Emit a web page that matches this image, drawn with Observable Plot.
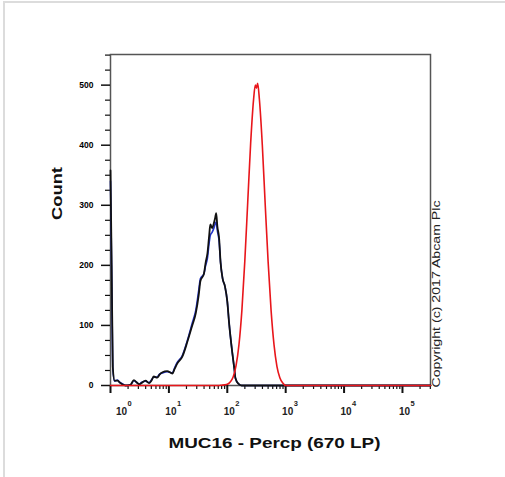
<!DOCTYPE html>
<html>
<head>
<meta charset="utf-8">
<script src="https://cdn.jsdelivr.net/npm/d3@7"></script>
<script src="https://cdn.jsdelivr.net/npm/@observablehq/plot@0.6"></script>
<style>
  html, body { margin: 0; padding: 0; background: #fff; }
  #wrap { position: relative; width: 505px; height: 477px; overflow: hidden; }
  #border { position: absolute; left: 3px; top: 1px; right: 0; bottom: 0;
            border-top: 2px solid #dcdcdc; border-left: 2px solid #dcdcdc; }
  #chart { position: absolute; left: 0; top: 0; }
</style>
</head>
<body>
<div id="wrap"><div id="border"></div><div id="chart"></div></div>
<script>
// decade exponents for x tick labels
const decades = [0, 1, 2, 3, 4, 5];
const yTicks = [0, 100, 200, 300, 400, 500];
const xLabel = "MUC16 - Percp (670 LP)";
const yLabel = "Count";
const copyright = "Copyright (c) 2017 Abcam Plc";

// black histogram (log10 intensity, count)
const blackExp = [0.00,0.02,0.04,0.07,0.12,0.16,0.20,0.26,0.34,0.40,0.45,0.49,0.53,0.60,0.66,0.70,0.74,0.80,0.84,0.89,0.97,1.06,1.10,1.14,1.23,1.32,1.40,1.46,1.51,1.54,1.60,1.63,1.66,1.69,1.71,1.74,1.77,1.79,1.81,1.83,1.86,1.885,1.92,1.96,2.00,2.03,2.085,2.12,2.14,2.19,2.245,2.40,5.48];
const blackCount = [358,200,30,8,8,5,2,0,1,9,5,2,4,8,4,8,15,13,18,22,24,20,28,36,48,74,100,120,150,174,186,205,220,250,268,262,270,278,287,265,245,205,178,165,140,105,55,28,12,3,0,0,0];
// blue histogram (same bins)
const blueCount = [340,190,28,7,9,5,3,0,1,8,5,2,5,7,5,9,14,14,19,21,23,21,30,38,50,76,104,125,158,178,186,200,212,238,250,255,262,268,272,258,240,205,178,165,140,105,55,28,12,3,0,0,0];
// red histogram
const redExp = [0.00,1.85,1.90,1.95,2.00,2.05,2.10,2.15,2.20,2.25,2.30,2.35,2.40,2.45,2.48,2.50,2.52,2.55,2.60,2.65,2.70,2.75,2.80,2.85,2.90,2.95,3.00,5.48];
const redCount = [0,0,0.5,1,2,6,14,33,68,125,207,305,403,476,500,495,503,476,400,300,205,125,68,32,13,4,0,0];

const toRows = (ex, ct) => ex.map((e, i) => ({x: 10 ** e, y: ct[i]}));
const black = toRows(blackExp, blackCount);
const blue = toRows(blackExp, blueCount);
const red = toRows(redExp, redCount);

const xMax = 10 ** 5.48;
const majorX = decades.map(d => 10 ** d);
const minorX = [];
for (const d of decades) for (let k = 2; k <= 9; k++) { const v = k * 10 ** d; if (v <= xMax) minorX.push(v); }
const minorY = d3.range(25, 551, 25).filter(v => v % 100 !== 0);

const font = "'Liberation Sans', Arial, sans-serif";
const first = decades.filter(d => d === 0);
const rest = decades.filter(d => d > 0);
const plot = Plot.plot({
  width: 505, height: 477,
  marginLeft: 110, marginRight: 75, marginTop: 54, marginBottom: 92,
  x: {type: "log", domain: [1, xMax]},
  y: {domain: [0, 551]},
  style: {fontFamily: font, background: "transparent", overflow: "visible", color: "#111"},
  marks: [
    Plot.frame({stroke: "#555", strokeWidth: 1.5}),
    Plot.axisY({ticks: minorY, tickSize: 5, tickFormat: () => "", label: null, strokeWidth: 1.2}),
    Plot.axisY({ticks: yTicks, tickSize: 9, tickPadding: 8, fontSize: 8.5, fontWeight: "bold", label: null, strokeWidth: 1.5, fill: "#000"}),
    Plot.axisX({ticks: minorX, tickSize: 4, tickFormat: () => "", label: null, strokeWidth: 1.2}),
    Plot.axisX({ticks: majorX, tickSize: 8, tickFormat: () => "", label: null, strokeWidth: 2}),
    Plot.text(first, {x: d => 10 ** d, text: () => "10", frameAnchor: "bottom", dy: 29, dx: 11, fontSize: 10, fontWeight: "bold", fill: "#222"}),
    Plot.text(first, {x: d => 10 ** d, text: d => String(d), frameAnchor: "bottom", dy: 20, dx: 17, textAnchor: "start", fontSize: 7.5, fontWeight: "bold", fill: "#222"}),
    Plot.text(rest, {x: d => 10 ** d, text: () => "10", frameAnchor: "bottom", dy: 29, dx: 2, fontSize: 10, fontWeight: "bold", fill: "#222"}),
    Plot.text(rest, {x: d => 10 ** d, text: d => String(d), frameAnchor: "bottom", dy: 20, dx: 8, textAnchor: "start", fontSize: 7.5, fontWeight: "bold", fill: "#222"}),
    Plot.line(blue, {x: "x", y: "y", stroke: "#2233cc", strokeWidth: 1.6, curve: "monotone-x"}),
    Plot.line(black, {x: "x", y: "y", stroke: "#111", strokeWidth: 1.8, curve: "monotone-x"}),
    Plot.line(red, {x: "x", y: "y", stroke: "#e8161b", strokeWidth: 1.6, curve: "monotone-x"}),
    Plot.text([yLabel], {text: d => d, frameAnchor: "left", rotate: -90, dx: -53, fontSize: 15, fontWeight: "bold", fill: "#111"}),
    Plot.text([xLabel], {text: d => d, frameAnchor: "bottom", dx: 4, dy: 62, fontSize: 14, fontWeight: "bold", fill: "#111"}),
    Plot.text([copyright], {text: d => d, frameAnchor: "bottom-right", rotate: -90, textAnchor: "start", dx: 9, dy: 2, fontSize: 10, fill: "#222"})
  ]
});
document.getElementById("chart").appendChild(plot);
// stretch long labels to the reference extents
const fit = {[xLabel]: 212, [yLabel]: 53, [copyright]: 187};
plot.querySelectorAll("text").forEach(t => {
  const s = t.textContent;
  if (fit[s]) { t.setAttribute("textLength", fit[s]); t.setAttribute("lengthAdjust", "spacingAndGlyphs"); }
});
</script>
</body>
</html>
